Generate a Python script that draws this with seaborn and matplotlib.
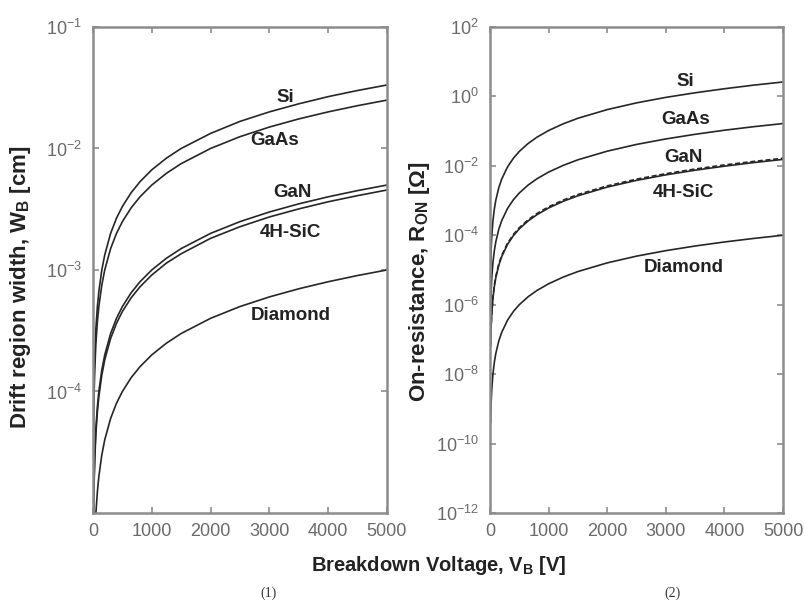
import numpy as np
import pandas as pd
import matplotlib
matplotlib.use("Agg")
import matplotlib.pyplot as plt
from matplotlib.ticker import LogFormatterMathtext, NullLocator, FixedLocator
import seaborn as sns

# ---- breakdown voltage samples [V] ----
V_width = [1, 2, 3, 5, 8, 12, 20, 30, 50, 75, 100, 150, 200, 300, 400, 500,
           650, 800, 1000, 1250, 1500, 2000, 2500, 3000, 3500, 4000, 4500, 5000]
V_res = [10, 15, 20, 30, 50, 75, 100, 150, 200, 300, 400, 500, 650, 800,
         1000, 1250, 1500, 2000, 2500, 3000, 3500, 4000, 4500, 5000]

materials = ["Si", "GaAs", "GaN", "4H-SiC", "Diamond"]

# ---- drift region width W_B [cm] ----
W_si = [6.67e-6, 1.33e-5, 2.0e-5, 3.33e-5, 5.33e-5, 8.0e-5, 1.33e-4, 2.0e-4,
        3.33e-4, 5.0e-4, 6.67e-4, 1.0e-3, 1.33e-3, 2.0e-3, 2.67e-3, 3.33e-3,
        4.33e-3, 5.33e-3, 6.67e-3, 8.33e-3, 1.0e-2, 1.33e-2, 1.67e-2, 2.0e-2,
        2.33e-2, 2.67e-2, 3.0e-2, 3.33e-2]
W_gaas = [5e-6, 1e-5, 1.5e-5, 2.5e-5, 4e-5, 6e-5, 1e-4, 1.5e-4, 2.5e-4,
          3.75e-4, 5e-4, 7.5e-4, 1e-3, 1.5e-3, 2e-3, 2.5e-3, 3.25e-3, 4e-3,
          5e-3, 6.25e-3, 7.5e-3, 1e-2, 1.25e-2, 1.5e-2, 1.75e-2, 2e-2,
          2.25e-2, 2.5e-2]
W_gan = [1e-6, 2e-6, 3e-6, 5e-6, 8e-6, 1.2e-5, 2e-5, 3e-5, 5e-5, 7.5e-5,
         1e-4, 1.5e-4, 2e-4, 3e-4, 4e-4, 5e-4, 6.5e-4, 8e-4, 1e-3, 1.25e-3,
         1.5e-3, 2e-3, 2.5e-3, 3e-3, 3.5e-3, 4e-3, 4.5e-3, 5e-3]
W_sic = [9.1e-7, 1.82e-6, 2.73e-6, 4.55e-6, 7.27e-6, 1.09e-5, 1.82e-5,
         2.73e-5, 4.55e-5, 6.82e-5, 9.09e-5, 1.36e-4, 1.82e-4, 2.73e-4,
         3.64e-4, 4.55e-4, 5.91e-4, 7.27e-4, 9.09e-4, 1.14e-3, 1.36e-3,
         1.82e-3, 2.27e-3, 2.73e-3, 3.18e-3, 3.64e-3, 4.09e-3, 4.55e-3]
W_dia = [2e-7, 4e-7, 6e-7, 1e-6, 1.6e-6, 2.4e-6, 4e-6, 6e-6, 1e-5, 1.5e-5,
         2e-5, 3e-5, 4e-5, 6e-5, 8e-5, 1e-4, 1.3e-4, 1.6e-4, 2e-4, 2.5e-4,
         3e-4, 4e-4, 5e-4, 6e-4, 7e-4, 8e-4, 9e-4, 1e-3]

# ---- specific on-resistance R_ON [ohm] ----
R_si = [1.04e-5, 2.34e-5, 4.16e-5, 9.36e-5, 2.6e-4, 5.85e-4, 1.04e-3,
        2.34e-3, 4.16e-3, 9.36e-3, 1.66e-2, 2.6e-2, 4.39e-2, 6.66e-2, 0.104,
        0.1625, 0.234, 0.416, 0.65, 0.936, 1.27, 1.66, 2.11, 2.6]
R_gaas = [6.6e-7, 1.49e-6, 2.64e-6, 5.94e-6, 1.65e-5, 3.71e-5, 6.6e-5,
          1.49e-4, 2.64e-4, 5.94e-4, 1.06e-3, 1.65e-3, 2.79e-3, 4.22e-3,
          6.6e-3, 1.03e-2, 1.49e-2, 2.64e-2, 4.13e-2, 5.94e-2, 8.09e-2,
          0.106, 0.134, 0.165]
R_gan = [6.6e-8, 1.49e-7, 2.64e-7, 5.94e-7, 1.65e-6, 3.71e-6, 6.6e-6,
         1.49e-5, 2.64e-5, 5.94e-5, 1.06e-4, 1.65e-4, 2.79e-4, 4.22e-4,
         6.6e-4, 1.03e-3, 1.49e-3, 2.64e-3, 4.13e-3, 5.94e-3, 8.09e-3,
         1.06e-2, 1.34e-2, 1.65e-2]
R_sic = [6.1e-8, 1.37e-7, 2.44e-7, 5.49e-7, 1.53e-6, 3.43e-6, 6.1e-6,
         1.37e-5, 2.44e-5, 5.49e-5, 9.76e-5, 1.53e-4, 2.58e-4, 3.9e-4,
         6.1e-4, 9.53e-4, 1.37e-3, 2.44e-3, 3.81e-3, 5.49e-3, 7.47e-3,
         9.76e-3, 1.24e-2, 1.53e-2]
R_dia = [4e-10, 9e-10, 1.6e-9, 3.6e-9, 1e-8, 2.25e-8, 4e-8, 9e-8, 1.6e-7,
         3.6e-7, 6.4e-7, 1e-6, 1.69e-6, 2.56e-6, 4e-6, 6.25e-6, 9e-6, 1.6e-5,
         2.5e-5, 3.6e-5, 4.9e-5, 6.4e-5, 8.1e-5, 1e-4]

# curve-name annotations (x in V, y in plot units)
width_label_pos = {"Si": (3265, 0.0265), "GaAs": (3095, 0.0117),
                   "GaN": (3400, 0.0043), "4H-SiC": (3350, 0.00202),
                   "Diamond": (3370, 4.2e-4)}
res_label_pos = {"Si": (3330, 2.6), "GaAs": (3330, 0.21),
                 "GaN": (3300, 0.0168), "4H-SiC": (3300, 1.66e-3),
                 "Diamond": (3300, 1.2e-5)}


def long_frame(v, series):
    rows = []
    for name, vals in zip(materials, series):
        for x, y in zip(v, vals):
            rows.append((x, y, name))
    return pd.DataFrame(rows, columns=["V", "value", "material"])


df_w = long_frame(V_width, [W_si, W_gaas, W_gan, W_sic, W_dia])
df_r = long_frame(V_res, [R_si, R_gaas, R_gan, R_sic, R_dia])

sns.set_style("ticks")
plt.rcParams["font.family"] = ["Liberation Sans", "DejaVu Sans"]
plt.rcParams["mathtext.fontset"] = "custom"
plt.rcParams["mathtext.rm"] = "Liberation Sans"
plt.rcParams["mathtext.bf"] = "Liberation Sans:bold"

line_col = "#262626"
spine_col = "#8c8c8c"
tick_col = "#6a6a6a"
palette = {m: line_col for m in materials}
solid_all = {m: "" for m in materials}
gan_dashed = {"Si": "", "GaAs": "", "GaN": (3, 1.6), "4H-SiC": "", "Diamond": ""}

fig = plt.figure(figsize=(8.05, 6.03), dpi=100)
ax1 = fig.add_axes([0.1155, 0.1493, 0.3652, 0.806])
ax2 = fig.add_axes([0.6087, 0.1493, 0.364, 0.806])

for ax, df, ylim, yticks, labels, dash_map, order in [
    (ax1, df_w, (1e-5, 1e-1), [1e-4, 1e-3, 1e-2, 1e-1], width_label_pos,
     solid_all, materials),
    (ax2, df_r, (1e-12, 1e2), [1e-12, 1e-10, 1e-8, 1e-6, 1e-4, 1e-2, 1, 1e2],
     res_label_pos, gan_dashed, ["Si", "GaAs", "4H-SiC", "GaN", "Diamond"]),
]:
    sns.lineplot(data=df, x="V", y="value", hue="material", style="material",
                 hue_order=order, style_order=order,
                 palette=palette, dashes=dash_map, linewidth=1.2, legend=False,
                 ax=ax, sort=False)
    ax.set_yscale("log")
    ax.set_xlim(0, 5000)
    ax.set_ylim(*ylim)
    ax.set_xticks([0, 1000, 2000, 3000, 4000, 5000])
    ax.yaxis.set_major_locator(FixedLocator(yticks))
    ax.yaxis.set_major_formatter(LogFormatterMathtext())
    ax.yaxis.set_minor_locator(NullLocator())
    ax.set_xlabel("")
    ax.set_ylabel("")
    ax.tick_params(axis="both", which="major", direction="in", length=4,
                   width=1.2, color=spine_col, labelcolor=tick_col,
                   labelsize=13, top=True, right=True)
    ax.tick_params(axis="x", pad=7)
    ax.tick_params(axis="y", pad=8)
    for sp in ax.spines.values():
        sp.set_visible(True)
        sp.set_color(spine_col)
        sp.set_linewidth(1.8)
    for name, (lx, ly) in labels.items():
        ax.text(lx, ly, name, ha="center", va="center", fontsize=13.5,
                fontweight="bold", color="#222222")

ax1.set_ylabel(r"Drift region width, W$_\mathbf{B}$ [cm]", fontsize=16,
               fontweight="bold", color="#222222")
ax1.yaxis.set_label_coords(-0.204, 0.465)
ax2.set_ylabel(r"On-resistance, R$_\mathbf{ON}$ [Ω]", fontsize=16,
               fontweight="bold", color="#222222")
ax2.yaxis.set_label_coords(-0.198, 0.475)

fig.text(0.545, 0.062, r"Breakdown Voltage, V$_\mathbf{B}$ [V]", ha="center",
         va="center", fontsize=14.5, fontweight="bold", color="#222222")
fig.text(0.333, 0.016, "(1)", ha="center", va="center", fontsize=10,
         family=["Liberation Serif", "DejaVu Serif"], color="#333333")
fig.text(0.835, 0.016, "(2)", ha="center", va="center", fontsize=10,
         family=["Liberation Serif", "DejaVu Serif"], color="#333333")

fig.savefig("out.png", dpi=100, facecolor="white")
